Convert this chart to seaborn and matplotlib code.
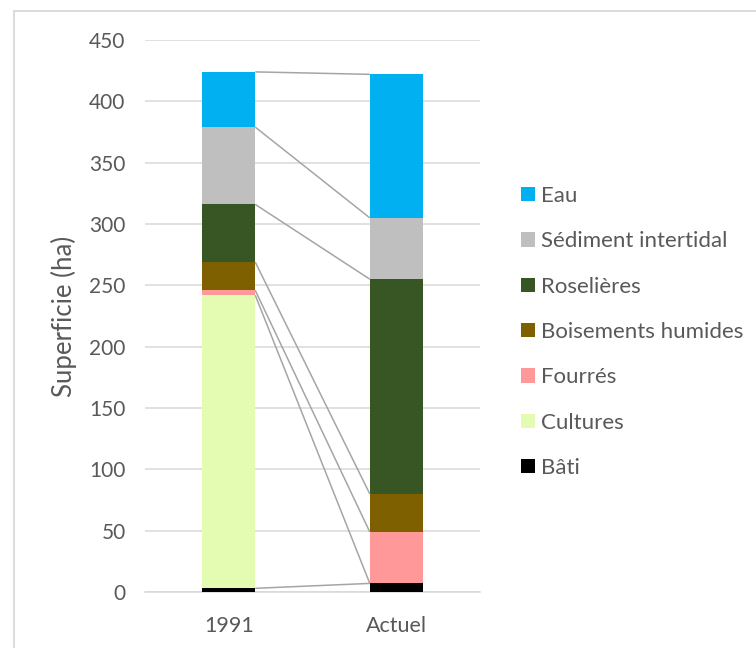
import numpy as np
import pandas as pd
import matplotlib
matplotlib.use("Agg")
import matplotlib.pyplot as plt
import seaborn as sns
from matplotlib.patches import Patch, Rectangle

periods = ["1991", "Actuel"]
series = ["Bâti", "Cultures", "Fourrés", "Boisements humides", "Roselières",
          "Sédiment intertidal", "Eau"]
bati = [3, 7]
cultures = [239, 0]
fourres = [4, 42]
boisements = [23, 31]
roselieres = [47, 175]
sediment = [63, 50]
eau = [45, 117]
colors = ["#000000", "#E3FCB1", "#FF9999", "#7F6000", "#375623", "#BFBFBF", "#00B0F0"]

values = [bati, cultures, fourres, boisements, roselieres, sediment, eau]

sns.set_theme(style="white")
plt.rcParams["font.family"] = ["Lato", "DejaVu Sans"]
txt = "#595959"

fig = plt.figure(figsize=(7.56, 6.48), dpi=100)
ax = fig.add_axes([145/756, 1-592/648, 335/756, 552/648])

cum = np.cumsum(np.array(values, dtype=float), axis=0)
df = pd.DataFrame({"Période": np.tile(periods, len(series)),
                   "Série": np.repeat(series, len(periods)),
                   "Cumul": cum.ravel()})

width = 0.316
# draw from top series downward so lower segments overlay
for i in range(len(series) - 1, -1, -1):
    sub = df[df["Série"] == series[i]]
    sns.barplot(data=sub, x="Période", y="Cumul", order=periods, color=colors[i],
                width=width, ax=ax, zorder=3, saturation=1, edgecolor="none",
                linewidth=0)

# series lines
for i in range(len(series)):
    ax.plot([0 + width/2, 1 - width/2], [cum[i, 0], cum[i, 1]],
            color="#A5A5A5", lw=1.1, zorder=4, solid_capstyle="butt")

ax.set_xlim(-0.5, 1.5)
ax.set_ylim(0, 450)
ax.set_yticks(np.arange(0, 451, 50))
ax.yaxis.grid(True, color="#D9D9D9", lw=1.1, zorder=0)
ax.set_axisbelow(True)
for s in ["top", "right", "left"]:
    ax.spines[s].set_visible(False)
ax.spines["bottom"].set_color("#D9D9D9")
ax.spines["bottom"].set_linewidth(1.1)
ax.tick_params(axis="y", length=0, labelsize=15, colors=txt, pad=14)
ax.tick_params(axis="x", length=0, labelsize=15.5, colors=txt, pad=17)
ax.set_xlabel("")
ax.set_ylabel("Superficie (ha)", fontsize=18.5, color=txt, labelpad=9)

handles = [Patch(facecolor=colors[i], edgecolor="none") for i in range(len(series) - 1, -1, -1)]
labels = [series[i] for i in range(len(series) - 1, -1, -1)]
leg = fig.legend(handles, labels, loc="center left", bbox_to_anchor=(501/756, 1-332/648),
                 frameon=False, fontsize=16, labelcolor=txt, handlelength=0.62,
                 handleheight=0.62, handletextpad=0.3, labelspacing=1.14)

fig.patches.append(Rectangle((14/756, -0.05), 1.1, 1-11/648 + 0.05, transform=fig.transFigure,
                             fill=False, edgecolor="#D9D9D9", lw=1.3))

fig.savefig("out.png", dpi=100)
